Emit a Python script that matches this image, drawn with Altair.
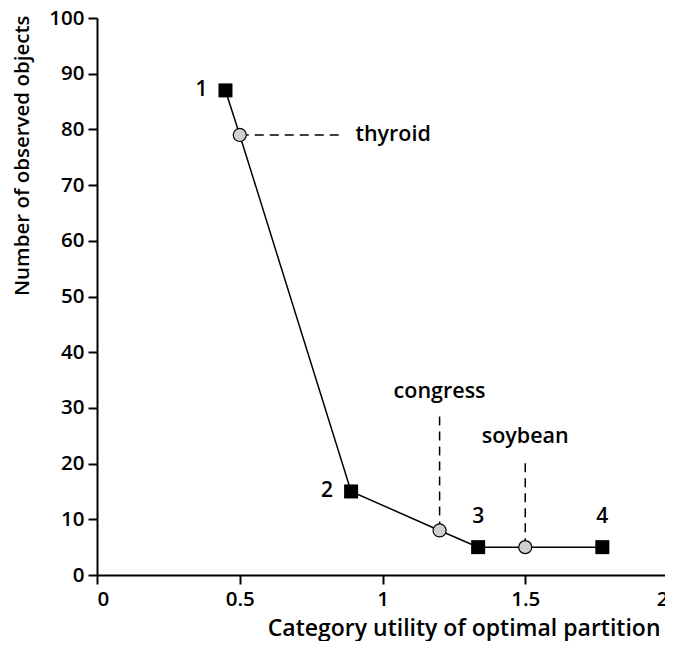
import altair as alt
import pandas as pd

# Data
pt_x = [0.45, 0.50, 0.89, 1.20, 1.335, 1.50, 1.77]
pt_y = [87, 79, 15, 8, 5, 5, 5]
pt_kind = ["partition", "dataset", "partition", "dataset", "partition", "dataset", "partition"]

num_labels = ["1", "2", "3", "4"]
num_x = [0.45, 0.89, 1.335, 1.77]
num_y = [87, 15, 5, 5]
num_dx = [-24, -24, 0, 0]
num_dy = [0, 0, -30, -30]

ds_names = ["thyroid", "congress", "soybean"]
ds_x = [0.50, 1.20, 1.50]
ds_y = [79, 8, 5]
# end of leader line and label anchor
lead_x2 = [0.85, 1.20, 1.50]
lead_y2 = [79, 28.5, 20.5]
lab_x = [0.905, 1.20, 1.50]
lab_y = [79, 32.8, 24.8]
lab_align = ["left", "center", "center"]

FONT = "Open Sans"

pts = pd.DataFrame({"x": pt_x, "y": pt_y, "kind": pt_kind})
nums = pd.DataFrame({"t": num_labels, "x": num_x, "y": num_y})
ds = pd.DataFrame({"name": ds_names, "x": ds_x, "y": ds_y, "x2": lead_x2, "y2": lead_y2,
                   "lx": lab_x, "ly": lab_y})

xscale = alt.Scale(domain=[0, 2], nice=False, range=[0, 571])
yscale = alt.Scale(domain=[0, 100], nice=False)

xaxis = alt.Axis(title="Category utility of optimal partition", values=[0, 0.5, 1, 1.5, 2],
                 labelExpr="datum.value", grid=False, labelPadding=5,
                 titleFontSize=23, titleX=563, titleY=53, titleAlign="right",
                 titleBaseline="middle")
yaxis = alt.Axis(title="Number of observed objects", values=list(range(0, 101, 10)),
                 grid=False, labelPadding=4, titleFontSize=20.5,
                 titleX=-75, titleY=-3, titleAlign="right", titleBaseline="middle")

line = alt.Chart(pts).mark_line(color="black", strokeWidth=1.5).encode(
    x=alt.X("x:Q", scale=xscale, axis=xaxis),
    y=alt.Y("y:Q", scale=yscale, axis=yaxis),
    order="x:Q",
)

leaders = alt.Chart(ds).mark_rule(color="black", strokeWidth=1.5, strokeDash=[9, 6]).encode(
    x="x:Q", y="y:Q", x2="x2:Q", y2="y2:Q"
)

squares = alt.Chart(pts).transform_filter("datum.kind == 'partition'").mark_point(
    shape="square", filled=True, color="black", size=196, opacity=1
).encode(x="x:Q", y="y:Q")

circles = alt.Chart(pts).transform_filter("datum.kind == 'dataset'").mark_point(
    shape="circle", filled=True, fill="#cfcfcf", stroke="black", strokeWidth=1.2, size=170, opacity=1
).encode(x="x:Q", y="y:Q")

num_text = []
for i in range(len(num_labels)):
    num_text.append(
        alt.Chart(nums.iloc[[i]]).mark_text(
            font=FONT, fontSize=21, fontWeight=600, color="black",
            dx=num_dx[i], dy=num_dy[i], align="center", baseline="middle"
        ).encode(x="x:Q", y="y:Q", text="t:N")
    )

ds_text = []
for i in range(len(ds_names)):
    ds_text.append(
        alt.Chart(ds.iloc[[i]]).mark_text(
            font=FONT, fontSize=21.5, fontWeight=600, color="black",
            align=lab_align[i], baseline="middle"
        ).encode(x="lx:Q", y="ly:Q", text="name:N")
    )

chart = alt.layer(line, leaders, squares, circles, *num_text, *ds_text).properties(
    width=568, height=557,
    autosize=alt.AutoSizeParams(type="none"),
    padding={"left": 89, "top": 10, "right": 0, "bottom": 66},
).configure_view(stroke=None).configure_axis(
    domainColor="black", domainWidth=2, tickColor="black", tickWidth=2, tickSize=9,
    labelFont=FONT, labelFontSize=20.5, labelFontWeight=600, labelColor="black",
    titleFont=FONT, titleFontWeight=600, titleColor="black",
)

chart.save("out.html", embed_options={"renderer": "svg", "actions": False})
